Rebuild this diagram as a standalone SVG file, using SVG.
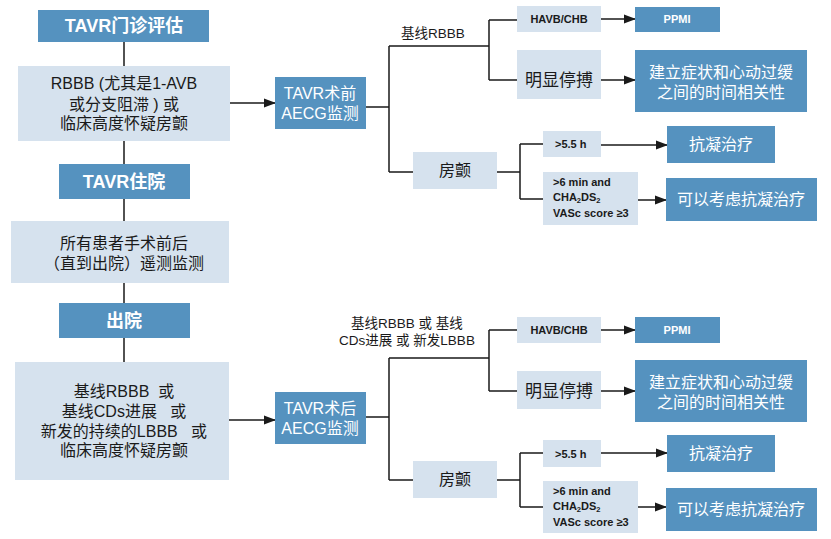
<svg xmlns="http://www.w3.org/2000/svg" width="831" height="539" viewBox="0 0 831 539">
<defs>
<marker id="arr" markerWidth="12" markerHeight="10" refX="11" refY="5" orient="auto" markerUnits="userSpaceOnUse">
<path d="M0,0.5 L12,5 L0,9.5 Z" fill="#1a1a1a"/>
</marker>
<style>
.dk{fill:#5592BF}
.lt{fill:#D6E2EE}
.ttl{font-family:"Liberation Sans","Noto Sans CJK SC",sans-serif;font-weight:bold;font-size:18px;fill:#fff;text-anchor:middle}
.wt{font-family:"Liberation Sans","Noto Sans CJK SC",sans-serif;font-size:16px;fill:#fff;text-anchor:middle}
.bk{font-family:"Liberation Sans","Noto Sans CJK SC",sans-serif;font-size:16px;fill:#1a1a1a;text-anchor:middle;white-space:pre}
.sm{font-family:"Liberation Sans","Noto Sans CJK SC",sans-serif;font-weight:bold;font-size:11px;fill:#1a1a1a}
.smw{font-family:"Liberation Sans","Noto Sans CJK SC",sans-serif;font-weight:bold;font-size:11px;fill:#fff;text-anchor:middle}
.lbl{font-family:"Liberation Sans","Noto Sans CJK SC",sans-serif;font-size:13.5px;fill:#1a1a1a;text-anchor:middle}
.ln{fill:none;stroke:#1a1a1a;stroke-width:1.5}
</style>
</defs>
<rect width="831" height="539" fill="#fff"/>

<g id="connectors">
<path class="ln" d="M124,42 V66 M124,141 V164 M124,199 V221 M124,283 V303 M124,338 V362"/>
<path class="ln" d="M230,103 H275" marker-end="url(#arr)"/>
<path class="ln" d="M229,420 H275" marker-end="url(#arr)"/>
<path class="ln" d="M366,107 H389 M389,46 V172 M389,46 H489 M389,172 H413 M489,20 V80 M489,20 H517 M489,80 H517"/>
<path class="ln" d="M601,19 H635" marker-end="url(#arr)"/>
<path class="ln" d="M601,80 H635" marker-end="url(#arr)"/>
<path class="ln" d="M497,172 H520 M520,144 V199 M520,144 H543 M520,199 H543"/>
<path class="ln" d="M601,145 H667" marker-end="url(#arr)"/>
<path class="ln" d="M638,200 H666" marker-end="url(#arr)"/>
<path class="ln" d="M366,417 H389 M389,358 V480 M389,358 H489 M389,480 H413 M489,330 V391 M489,330 H517 M489,391 H517"/>
<path class="ln" d="M601,330 H635" marker-end="url(#arr)"/>
<path class="ln" d="M601,391 H635" marker-end="url(#arr)"/>
<path class="ln" d="M497,480 H520 M520,453 V507 M520,453 H543 M520,507 H543"/>
<path class="ln" d="M601,453 H667" marker-end="url(#arr)"/>
<path class="ln" d="M638,507 H666" marker-end="url(#arr)"/>
</g>

<g id="n-outpatient"><rect class="dk" x="38" y="10" width="171" height="32"/><text class="ttl" x="124" y="32">TAVR门诊评估</text></g>
<g id="n-rbbb"><rect class="lt" x="18" y="66" width="212" height="75"/>
<text class="bk" x="124" y="89">RBBB (尤其是1-AVB</text>
<text class="bk" x="124" y="110">或分支阻滞 ) 或</text>
<text class="bk" x="124" y="129">临床高度怀疑房颤</text></g>
<g id="n-inpatient"><rect class="dk" x="59" y="164" width="131" height="35"/><text class="ttl" x="124" y="188">TAVR住院</text></g>
<g id="n-all"><rect class="lt" x="11" y="221" width="218" height="62"/>
<text class="bk" x="124" y="249">所有患者手术前后</text>
<text class="bk" x="124" y="269">（直到出院）遥测监测</text></g>
<g id="n-discharge"><rect class="dk" x="59" y="303" width="131" height="35"/><text class="ttl" x="124" y="327">出院</text></g>
<g id="n-baseline"><rect class="lt" x="15" y="362" width="214" height="118"/>
<text class="bk" x="124" y="397">基线RBBB  或</text>
<text class="bk" x="124" y="417">基线CDs进展   或</text>
<text class="bk" x="124" y="437">新发的持续的LBBB   或</text>
<text class="bk" x="124" y="456">临床高度怀疑房颤</text></g>

<g id="n-pre"><rect class="dk" x="275" y="77" width="91" height="52"/>
<text class="wt" x="320" y="99">TAVR术前</text><text class="wt" x="320" y="119">AECG监测</text></g>
<g id="lbl-top"><text class="lbl" x="433" y="38">基线RBBB</text></g>
<g id="n-havb1"><rect class="lt" x="517" y="6" width="84" height="26"/><text class="sm" x="559" y="23" text-anchor="middle">HAVB/CHB</text></g>
<g id="n-ppmi1"><rect class="dk" x="635" y="7" width="85" height="25"/><text class="smw" x="677" y="23">PPMI</text></g>
<g id="n-pause1"><rect class="lt" x="517" y="50" width="84" height="49"/><text class="bk" x="559" y="86" style="font-size:17px">明显停搏</text></g>
<g id="n-corr1"><rect class="dk" x="635" y="50" width="172" height="62"/>
<text class="wt" x="721" y="78">建立症状和心动过缓</text><text class="wt" x="721" y="98">之间的时间相关性</text></g>
<g id="n-af1"><rect class="lt" x="413" y="152" width="84" height="37"/><text class="bk" x="455" y="176">房颤</text></g>
<g id="n-55h1"><rect class="lt" x="543" y="131" width="58" height="26"/><text class="sm" x="555" y="148">&gt;5.5 h</text></g>
<g id="n-anti1"><rect class="dk" x="667" y="126" width="108" height="37"/><text class="wt" x="721" y="150">抗凝治疗</text></g>
<g id="n-6min1"><rect class="lt" x="543" y="172" width="95" height="53"/>
<text class="sm" x="553" y="186">&gt;6 min and</text>
<text class="sm" x="553" y="201">CHA<tspan font-size="7.5" baseline-shift="-25%">2</tspan>DS<tspan font-size="7.5" baseline-shift="-25%">2</tspan></text>
<text class="sm" x="553" y="217">VASc score ≥3</text></g>
<g id="n-cons1"><rect class="dk" x="666" y="178" width="151" height="43"/><text class="wt" x="741" y="205">可以考虑抗凝治疗</text></g>

<g id="n-post"><rect class="dk" x="275" y="392" width="91" height="52"/>
<text class="wt" x="320" y="414">TAVR术后</text><text class="wt" x="320" y="434">AECG监测</text></g>
<g id="lbl-bottom"><text class="lbl" x="407" y="328">基线RBBB 或 基线</text><text class="lbl" x="407" y="345">CDs进展 或 新发LBBB</text></g>
<g id="n-havb2"><rect class="lt" x="517" y="317" width="84" height="26"/><text class="sm" x="559" y="334" text-anchor="middle">HAVB/CHB</text></g>
<g id="n-ppmi2"><rect class="dk" x="635" y="317" width="85" height="26"/><text class="smw" x="677" y="334">PPMI</text></g>
<g id="n-pause2"><rect class="lt" x="517" y="371" width="84" height="38"/><text class="bk" x="559" y="397" style="font-size:17px">明显停搏</text></g>
<g id="n-corr2"><rect class="dk" x="635" y="360" width="172" height="62"/>
<text class="wt" x="721" y="388">建立症状和心动过缓</text><text class="wt" x="721" y="408">之间的时间相关性</text></g>
<g id="n-af2"><rect class="lt" x="413" y="461" width="84" height="37"/><text class="bk" x="455" y="485">房颤</text></g>
<g id="n-55h2"><rect class="lt" x="543" y="440" width="58" height="27"/><text class="sm" x="555" y="458">&gt;5.5 h</text></g>
<g id="n-anti2"><rect class="dk" x="667" y="435" width="108" height="37"/><text class="wt" x="721" y="459">抗凝治疗</text></g>
<g id="n-6min2"><rect class="lt" x="543" y="481" width="95" height="52"/>
<text class="sm" x="553" y="495">&gt;6 min and</text>
<text class="sm" x="553" y="510">CHA<tspan font-size="7.5" baseline-shift="-25%">2</tspan>DS<tspan font-size="7.5" baseline-shift="-25%">2</tspan></text>
<text class="sm" x="553" y="526">VASc score ≥3</text></g>
<g id="n-cons2"><rect class="dk" x="666" y="488" width="151" height="43"/><text class="wt" x="741" y="515">可以考虑抗凝治疗</text></g>
</svg>
